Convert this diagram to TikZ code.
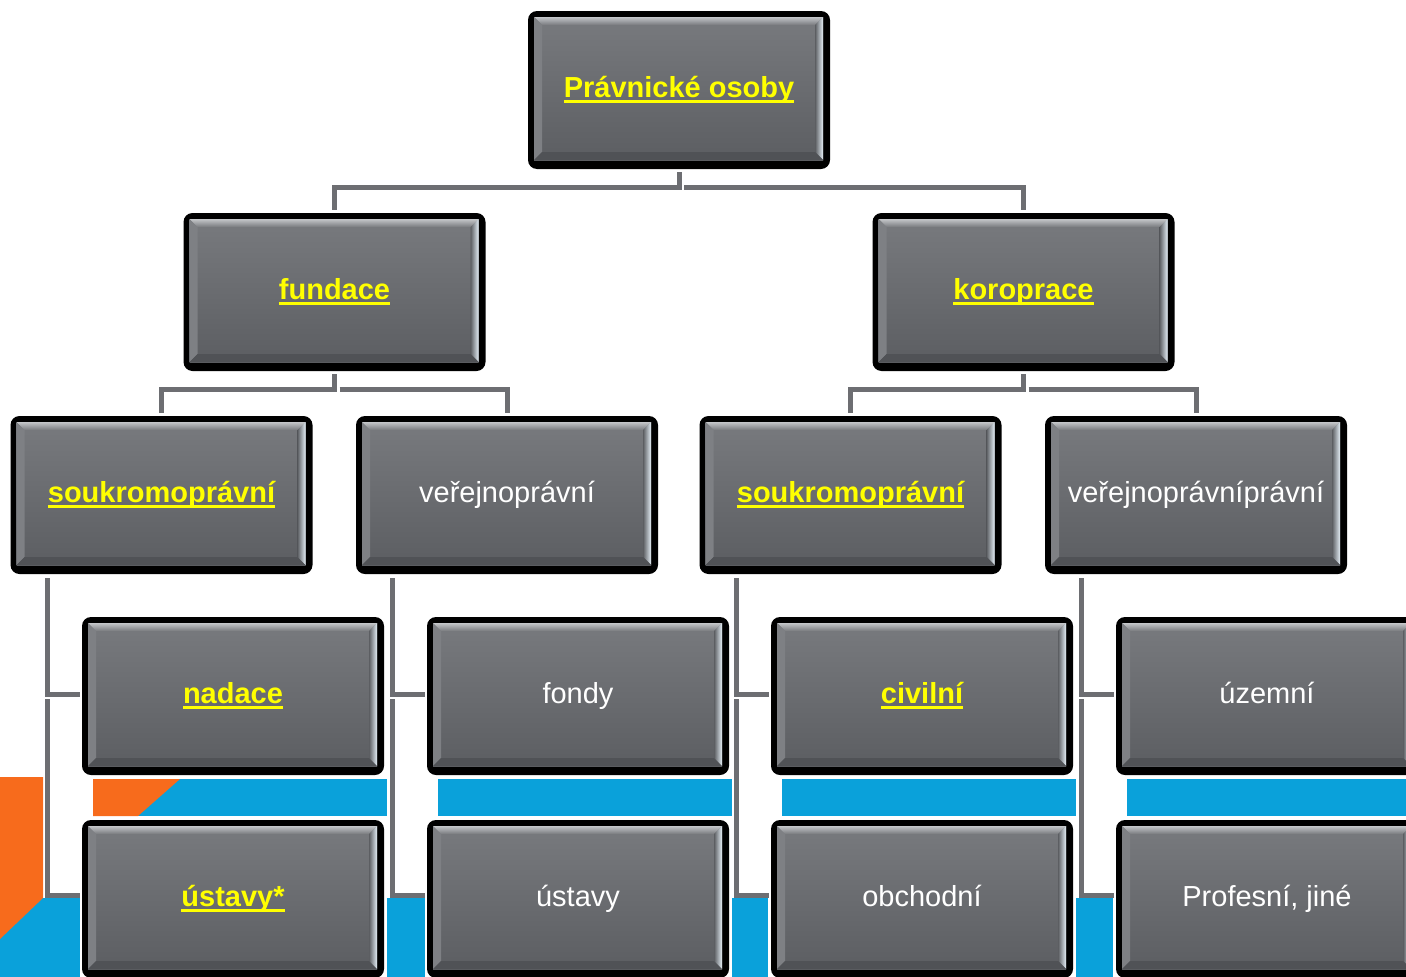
\documentclass[tikz,border=0pt]{standalone}
\usepackage{fontspec}
\setmainfont{Liberation Sans}
\usetikzlibrary{calc}
\definecolor{boxtop}{HTML}{787A7E}
\definecolor{boxbot}{HTML}{5C5E62}
\definecolor{bevtop}{HTML}{C4C6C9}
\definecolor{bevleft}{HTML}{7E8084}
\definecolor{bevbot}{HTML}{505256}
\definecolor{bevright}{HTML}{E4EEF6}
\definecolor{conn}{HTML}{6D6E72}
\definecolor{myblue}{HTML}{0AA1DA}
\definecolor{myorange}{HTML}{F76B1C}
\definecolor{ytext}{HTML}{FFFF00}
\newcommand\yul[1]{\setbox0\hbox{#1}\rlap{\vrule height -3pt depth 6.2pt width \wd0}\box0}
\tikzset{
  pbox/.style={rectangle, rounded corners=9pt, fill=black,
    minimum width=302pt, minimum height=158pt, inner sep=0pt,
    text height=20pt, text depth=6pt, font=\fontsize{29}{34}\selectfont,
    path picture={
      \coordinate (ppA) at ($(path picture bounding box.north west)+(6pt,-6pt)$);
      \coordinate (ppB) at ($(path picture bounding box.north east)+(-7pt,-6pt)$);
      \coordinate (ppC) at ($(path picture bounding box.south east)+(-7pt,9pt)$);
      \coordinate (ppD) at ($(path picture bounding box.south west)+(6pt,9pt)$);
      \shade[sharp corners, top color=boxtop, bottom color=boxbot] (ppA) rectangle (ppC);
      \shade[sharp corners, top color=bevtop, bottom color=boxtop]
        (ppA) -- (ppB) -- ($(ppB)+(-8pt,-8pt)$) -- ($(ppA)+(8pt,-8pt)$) -- cycle;
      \fill[sharp corners, bevleft]
        (ppA) -- ($(ppA)+(8pt,-8pt)$) -- ($(ppD)+(8pt,8pt)$) -- (ppD) -- cycle;
      \shade[sharp corners, left color=boxbot, right color=bevright]
        (ppB) -- (ppC) -- ($(ppC)+(-8pt,8pt)$) -- ($(ppB)+(-8pt,-8pt)$) -- cycle;
      \fill[sharp corners, bevbot]
        (ppD) -- (ppC) -- ($(ppC)+(-8pt,8pt)$) -- ($(ppD)+(8pt,8pt)$) -- cycle;
    }},
  yel/.style={pbox, text=ytext},
  wht/.style={pbox, text=white},
  link/.style={draw=conn, line width=5pt},
}
\begin{document}
\begin{tikzpicture}[x=1pt,y=-1pt]
\useasboundingbox (0,0) rectangle (1406,977);
\clip (0,0) rectangle (1406,977);
% background decoration
\fill[myblue] (93,779) rectangle (387,816);
\fill[myorange] (93,779) -- (180,779) -- (138,816) -- (93,816) -- cycle;
\fill[myblue] (438,779) rectangle (732,816);
\fill[myblue] (782,779) rectangle (1076,816);
\fill[myblue] (1127,779) rectangle (1406,816);
\fill[myblue] (0,898) rectangle (80,977);
\fill[myorange] (0,777) -- (43,777) -- (43,898) -- (0,939) -- cycle;
\fill[myblue] (387,898) rectangle (425,977);
\fill[myblue] (732,898) rectangle (768,977);
\fill[myblue] (1076,898) rectangle (1113,977);

% boxes
\node[yel] (top) at (679,90) {\bfseries\yul{Právnické osoby}};
\node[yel] (fund) at (334.5,292) {\bfseries\yul{fundace}};
\node[yel] (korp) at (1023.5,292) {\bfseries\yul{koroprace}};
\node[yel] (souk1) at (161.5,495) {\bfseries\yul{soukromoprávní}};
\node[wht] (vere1) at (507,495) {veřejnoprávní};
\node[yel] (souk2) at (850.5,495) {\bfseries\yul{soukromoprávní}};
\node[wht] (vere2) at (1196,495) {veřejnoprávníprávní};
\node[yel] (nad) at (233,696) {\bfseries\yul{nadace}};
\node[yel] (ust1) at (233,899) {\bfseries\yul{ústavy*}};
\node[wht] (fon) at (578,696) {fondy};
\node[wht] (ust2) at (578,899) {ústavy};
\node[yel] (civ) at (922,696) {\bfseries\yul{civilní}};
\node[wht] (obch) at (922,899) {obchodní};
\node[wht] (uzem) at (1267,696) {územní};
\node[wht] (prof) at (1267,899) {Profesní, jiné};

% tree connectors
\draw[link] ([yshift=-3]top.south) -- ([yshift=-18]top.south) -| ([yshift=3]fund.north);
\draw[link] ([shift={(5,18)}]top.south) -| ([yshift=3]korp.north);
\draw[link] ([yshift=-3]fund.south) -- ([yshift=-18]fund.south) -| ([yshift=3]souk1.north);
\draw[link] ([shift={(5,18)}]fund.south) -| ([yshift=3]vere1.north);
\draw[link] ([yshift=-3]korp.south) -- ([yshift=-18]korp.south) -| ([yshift=3]souk2.north);
\draw[link] ([shift={(5,18)}]korp.south) -| ([yshift=3]vere2.north);

% side connectors
\foreach \p/\a/\b in {souk1/nad/ust1, vere1/fon/ust2, souk2/civ/obch, vere2/uzem/prof}{
  \coordinate (\p-x) at ([xshift=37]\p.south west);
  \draw[link] ([yshift=-4]\p-x) |- ([shift={(-2,-2)}]\a.west);
  \coordinate (\p-y) at (\p-x |- \a.west);
  \draw[link] ([yshift=-3]\p-y) |- ([shift={(-2,-4)}]\b.west);
}
\end{tikzpicture}
\end{document}
